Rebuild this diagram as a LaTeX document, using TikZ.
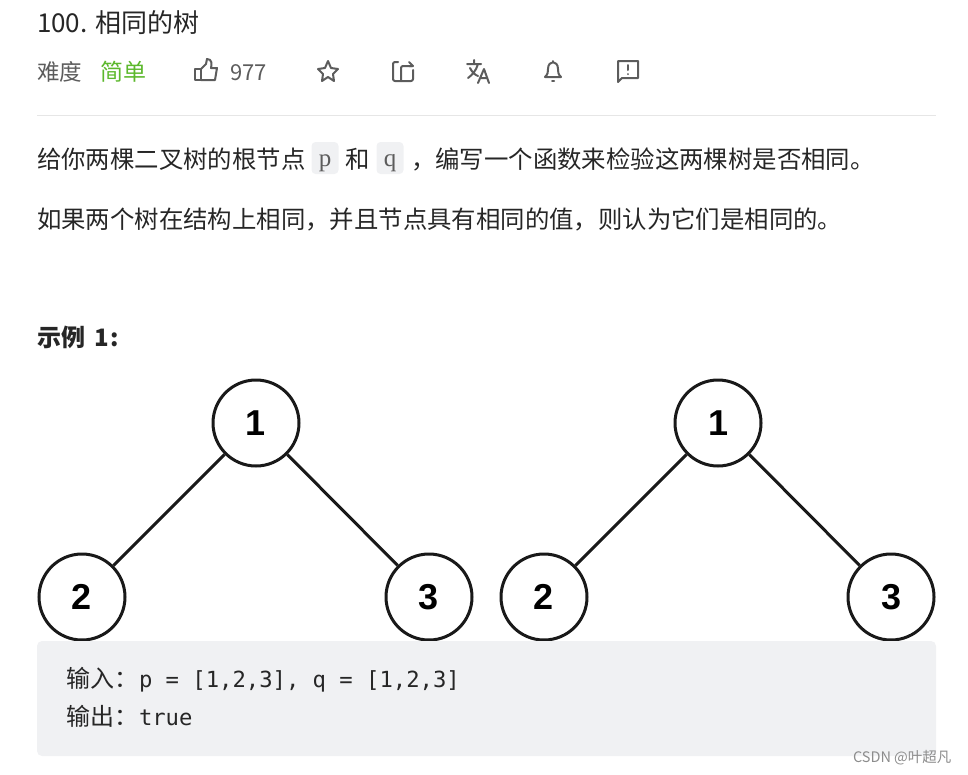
\documentclass[tikz,border=0pt]{standalone}
\usepackage{fontspec}
\setmainfont{Noto Sans CJK SC}
\newfontfamily\codefont{DejaVu Sans Mono}
\newfontfamily\monocjk{Noto Sans CJK SC}
\newfontfamily\serifcode{Liberation Serif}
\newfontfamily\digitfont{Liberation Sans}
\definecolor{inkdark}{HTML}{262626}
\definecolor{inkgrey}{HTML}{5C5C5C}
\definecolor{easygreen}{HTML}{5CB82C}
\definecolor{codebg}{HTML}{F0F1F3}
\definecolor{rulegrey}{HTML}{E6E6E6}
\tikzset{
  txt/.style={anchor=base west,inner sep=0pt,outer sep=0pt,text=inkdark,font=\fontsize{24.4}{24}\selectfont},
  greytxt/.style={txt,text=inkgrey,font=\fontsize{22.5}{24}\selectfont},
  codetxt/.style={txt,text=inkdark,font=\fontsize{22.2}{24}\codefont},
  cjktxt/.style={txt,text=inkdark,font=\fontsize{24}{24}\monocjk},
  chip/.style={draw=none,fill=codebg,rounded corners=4pt,minimum width=27pt,minimum height=32pt,inner sep=0pt},
  chiptxt/.style={anchor=base,inner sep=0pt,text=inkgrey,font=\fontsize{25}{25}\serifcode},
  treenode/.style={circle,draw=black!90,line width=3pt,fill=white,minimum size=86pt,inner sep=0pt,font=\fontsize{36}{36}\digitfont\bfseries},
  treeedge/.style={draw=black!90,line width=3pt},
  icon/.style={draw=inkgrey,line width=2pt,line join=round,line cap=round}
}
\begin{document}
\begin{tikzpicture}[x=1pt,y=-1pt]
\useasboundingbox (0,0) rectangle (968,774);
% heading
\node[txt,font=\fontsize{26}{26}\selectfont] (title) at (37,32) {100. 相同的树};
\node[greytxt] (level) at (37,80) {难度};
\node[txt,text=easygreen,font=\fontsize{23}{24}\selectfont] (easy) at (100,80) {简单};
\node[greytxt,font=\fontsize{22}{24}\selectfont] (likes) at (230,80) {977};
% toolbar
\draw[icon] (195,69) rectangle (201,80);
\draw[icon] (201,69) -- (206,64) -- (207,59) .. controls (212,59) and (212,64) .. (211,68) -- (217,68) -- (215,80) -- (201,80);
\draw[icon] (328,61) -- (331,68) -- (338,69) -- (333,74) -- (334,81) -- (328,77) -- (322,81) -- (323,74) -- (318,69) -- (325,68) -- cycle;
\draw[icon,rounded corners=2pt] (398,62) -- (393,62) -- (393,81) -- (413,81) -- (413,70);
\draw[icon,rounded corners=2pt] (401,81) -- (401,66) -- (412,66);
\draw[icon] (409,62) -- (413,66) -- (409,66);
\draw[icon] (467,64) -- (481,64) (474,60) -- (474,64) (478,64) .. controls (476,71) and (472,75) .. (468,78) (470,68) .. controls (472,72) and (475,75) .. (478,76);
\draw[icon] (478,83) -- (484,69) -- (489,83) (480,78) -- (487,78);
\draw[icon] (545,77) .. controls (548,74) and (548,72) .. (548,69) .. controls (548,60) and (558,60) .. (558,69) .. controls (558,72) and (558,74) .. (561,77) -- cycle;
\draw[icon] (553,62) -- (553,61) (552,81) -- (554,81);
\draw[icon] (618,61) -- (638,61) -- (638,78) -- (622,78) -- (618,82) -- cycle;
\draw[icon] (628,65) -- (628,70) (628,74) -- (628,74.2);
\draw[rulegrey,line width=1pt] (37,115.5) -- (936,115.5);
% statement
\node[txt] (lineone) at (37,168) {给你两棵二叉树的根节点};
\node[chip] (chipp) at (325,158) {};
\node[chiptxt] (letterp) at (325,166) {p};
\node[txt] (he) at (345,168) {和};
\node[chip] (chipq) at (390,158) {};
\node[chiptxt] (letterq) at (390,166) {q};
\node[txt] (linerest) at (411,168) {，编写一个函数来检验这两棵树是否相同。};
\node[txt] (linetwo) at (37,228) {如果两个树在结构上相同，并且节点具有相同的值，则认为它们是相同的。};
\node[txt,font=\fontsize{24}{24}\bfseries\selectfont] (example) at (37,346) {示例\hspace{9pt}1\hspace{1.5pt}:};
% trees
\node[treenode] (pa) at (256,423) {1};
\node[treenode] (pb) at (82,597) {2};
\node[treenode] (pc) at (429,597) {3};
\node[treenode] (qa) at (718,423) {1};
\node[treenode] (qb) at (544,597) {2};
\node[treenode] (qc) at (891,597) {3};
\draw[treeedge] (pa) -- (pb);
\draw[treeedge] (pa) -- (pc);
\draw[treeedge] (qa) -- (qb);
\draw[treeedge] (qa) -- (qc);
% code block
\fill[codebg,rounded corners=5pt] (37,641) rectangle (936,756);
\node[cjktxt] (inlabel) at (66,687) {输入：};
\node[codetxt] (invalue) at (139,687) {p = [1,2,3], q = [1,2,3]};
\node[cjktxt] (outlabel) at (66,725) {输出：};
\node[codetxt] (outvalue) at (139,725) {true};
\node[txt,text=black!45,font=\fontsize{14.5}{14}\selectfont] (mark) at (853,762) {CSDN @叶超凡};
\end{tikzpicture}
\end{document}
